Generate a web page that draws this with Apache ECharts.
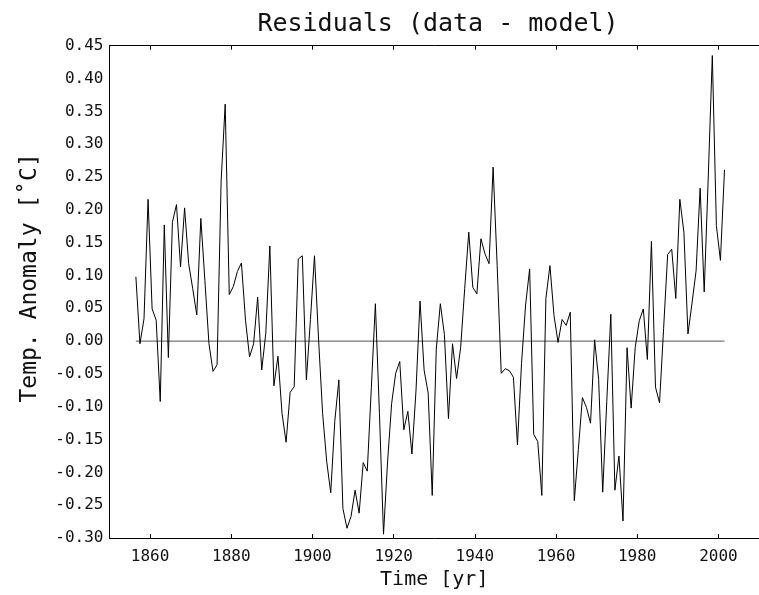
<!DOCTYPE html>
<html>
<head>
<meta charset="utf-8">
<script src="https://cdn.jsdelivr.net/npm/echarts@6/dist/echarts.min.js"></script>
<style>
  html, body { margin: 0; padding: 0; background: #fff; }
  #chart { width: 759px; height: 595px; }
</style>
</head>
<body>
<div id="chart"></div>
<script>
// ---- data (annual residuals, first year 1856) ----
const START_YEAR = 1856;
const residuals = [
  0.098, -0.004, 0.034, 0.216, 0.049, 0.032, -0.092, 0.177, -0.025, 0.181,   // 1856-1865
  0.208, 0.113, 0.203, 0.118, 0.080, 0.040, 0.187, 0.092, -0.004, -0.046,    // 1866-1875
  -0.036, 0.244, 0.361, 0.071, 0.083, 0.106, 0.119, 0.032, -0.024, -0.004,   // 1876-1885
  0.067, -0.044, 0.012, 0.145, -0.068, -0.023, -0.110, -0.154, -0.078, -0.069, // 1886-1895
  0.125, 0.130, -0.059, 0.033, 0.130, 0.003, -0.110, -0.183, -0.231, -0.122, // 1896-1905
  -0.059, -0.255, -0.285, -0.267, -0.227, -0.262, -0.185, -0.198, -0.071, 0.057, // 1906-1915
  -0.110, -0.294, -0.184, -0.095, -0.049, -0.031, -0.135, -0.107, -0.172, -0.076, // 1916-1925
  0.061, -0.044, -0.079, -0.235, -0.012, 0.057, 0.010, -0.118, -0.004, -0.057, // 1926-1935
  -0.010, 0.080, 0.166, 0.082, 0.072, 0.156, 0.133, 0.118, 0.265, 0.115,     // 1936-1945
  -0.049, -0.042, -0.045, -0.055, -0.158, -0.034, 0.055, 0.110, -0.142, -0.153, // 1946-1955
  -0.235, 0.065, 0.115, 0.039, -0.002, 0.033, 0.024, 0.044, -0.243, -0.165,  // 1956-1965
  -0.086, -0.101, -0.125, 0.002, -0.058, -0.230, -0.092, 0.041, -0.227, -0.175, // 1966-1975
  -0.274, -0.010, -0.102, -0.010, 0.031, 0.049, -0.028, 0.152, -0.070, -0.094, // 1976-1985
  0.019, 0.132, 0.140, 0.065, 0.216, 0.166, 0.011, 0.058, 0.107, 0.233,      // 1986-1995
  0.075, 0.250, 0.435, 0.176, 0.123, 0.261                                   // 1996-2001
];
const years = residuals.map((_, i) => START_YEAR + i);
const xTicks = [1860, 1880, 1900, 1920, 1940, 1960, 1980, 2000];
const titleText = 'Residuals (data - model)';
const xName = 'Time [yr]';
const yName = 'Temp. Anomaly [\u02DAC]';

// annual means are plotted at mid-year
const lineData = years.map((y, i) => [y + 0.5, residuals[i]]);
const zeroData = [[years[0] + 0.5, 0], [years[years.length - 1] + 0.5, 0]];

const FONT = '"DejaVu Sans Mono", "Liberation Mono", monospace';
const chart = echarts.init(document.getElementById('chart'), null, { renderer: 'canvas' });
chart.setOption({
  animation: false,
  backgroundColor: '#ffffff',
  title: {
    text: titleText,
    left: 433, top: 7, textAlign: 'center',
    textStyle: { fontFamily: FONT, fontSize: 25, fontWeight: 'normal', color: '#111' }
  },
  grid: { left: 109.5, top: 45.7, width: 653, height: 494.8, containLabel: false },
  xAxis: [{
    type: 'value', position: 'bottom', min: 1850, max: 2010,
    name: xName, nameLocation: 'middle', nameGap: 29,
    nameTextStyle: { fontFamily: FONT, fontSize: 20, color: '#111' },
    axisLine: { show: true, onZero: false, lineStyle: { color: '#000', width: 1 } },
    axisTick: { show: true, inside: true, length: 4, customValues: xTicks, lineStyle: { color: '#000' } },
    axisLabel: { show: true, customValues: xTicks, margin: 11, fontFamily: FONT, fontSize: 16, color: '#111',
      formatter: v => String(v) },
    splitLine: { show: false }
  }, {
    type: 'value', position: 'top', min: 1850, max: 2010,
    axisLine: { show: true, onZero: false, lineStyle: { color: '#000', width: 1 } },
    axisTick: { show: true, inside: true, length: 4, customValues: xTicks, lineStyle: { color: '#000' } },
    axisLabel: { show: false },
    splitLine: { show: false }
  }],
  yAxis: [{
    type: 'value', min: -0.30, max: 0.45, interval: 0.05,
    name: yName, nameLocation: 'middle', nameGap: 68, nameRotate: 90,
    nameTextStyle: { fontFamily: FONT, fontSize: 23, color: '#111', padding: [0, 0, 0, 28] },
    axisLine: { show: true, onZero: false, lineStyle: { color: '#000', width: 1 } },
    axisTick: { show: false },
    axisLabel: { margin: 6, fontFamily: FONT, fontSize: 16, color: '#111',
      formatter: v => v.toFixed(2) },
    splitLine: { show: false }
  }],
  series: [{
    type: 'line', data: zeroData, symbol: 'none', silent: true,
    lineStyle: { color: '#555', width: 1 }
  }, {
    type: 'line', data: lineData, symbol: 'none', silent: true,
    lineStyle: { color: '#000', width: 1 }
  }]
});
</script>
</body>
</html>
